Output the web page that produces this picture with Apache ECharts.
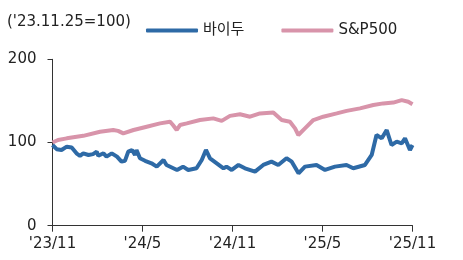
<!DOCTYPE html>
<html>
<head>
<meta charset="utf-8">
<script src="https://cdn.jsdelivr.net/npm/echarts@6/dist/echarts.min.js"></script>
<style>
html,body{margin:0;padding:0;background:#fff;}
#c{width:463px;height:260px;}
</style>
</head>
<body>
<div id="c"></div>
<script>
// months since '23.11.25 and index values ('23.11.25 = 100)
var baiduMonths = [0,0.28,0.6,0.95,1.28,1.6,1.83,2.05,2.4,2.7,2.95,3.05,3.4,3.6,3.95,4.3,4.6,4.83,5.05,5.3,5.5,5.6,5.83,6.17,6.6,6.95,7.4,7.6,8.3,8.7,9.05,9.6,9.95,10.23,10.5,10.95,11.4,11.6,11.95,12.4,12.83,13.5,14.05,14.6,15.05,15.6,15.95,16.4,16.83,17.6,18.17,18.83,19.6,20.05,20.83,21.28,21.6,21.95,22.28,22.6,22.95,23.28,23.5,23.83,24];
var baiduValues = [97,92,91,95,94,87,84,87,85,86,89,84,87,83,87,83,77,78,89,91,85,91,81,78,75,71,79,73,67,71,67,69,79,91,81,75,69,71,67,73,69,65,73,77,73,81,77,63,71,73,67,71,73,69,73,85,109,105,115,97,101,99,105,91,97];
var spMonths = [0,0.37,0.95,2.05,3.17,4.05,4.37,4.72,5.4,6.28,7.17,7.83,8.03,8.28,8.5,8.95,9.83,10.72,11.28,11.83,12.5,13.17,13.83,14.72,15.28,15.83,16.17,16.39,16.83,17.39,18.05,18.95,19.61,20.5,21.39,22.05,22.72,23.28,23.72,24];
var spValues = [100,103,105,108,113,115,114,111,115,119,123,125,121,115,121,123,127,129,126,132,134,131,135,136,127,125,117,109,117,127,131,135,138,141,145,147,148,151,149,146];
var tickMonths = [0,6,12,18,24];
var tickLabels = ["'23/11","'24/5","'24/11","'25/5","'25/11"];
var seriesNames = ['바이두','S&P500'];
var titleText = "('23.11.25=100)";

function pairs(xs, ys){ return xs.map(function(x,i){ return [x, ys[i]]; }); }
var FONT = "'DejaVu Sans', 'Noto Sans CJK KR', sans-serif";
var chart = echarts.init(document.getElementById('c'), null, {renderer:'canvas'});
chart.setOption({
  animation:false,
  textStyle:{fontFamily:FONT},
  title:{text:titleText,left:2,top:10,textStyle:{fontFamily:FONT,fontSize:15,fontWeight:'normal',color:'#222'}},
  legend:{
    left:146, top:23, padding:0, itemWidth:52, itemHeight:4, itemGap:37, icon:'roundRect',
    textStyle:{fontFamily:FONT,fontSize:15,color:'#222'},
    data:seriesNames
  },
  grid:{left:52.5,right:50.5,top:59.3,bottom:34.3,containLabel:false},
  xAxis:{
    type:'value',min:0,max:24,interval:6,
    axisLine:{lineStyle:{color:'#333',width:1}},
    axisTick:{show:true,length:6,lineStyle:{color:'#333'}},
    splitLine:{show:false},
    axisLabel:{margin:11,fontSize:15,color:'#222',fontFamily:FONT,
      formatter:function(v){ var i=tickMonths.indexOf(v); return i>=0?tickLabels[i]:''; }}
  },
  yAxis:{
    type:'value',min:0,max:200,interval:100,
    axisLine:{show:true,lineStyle:{color:'#333',width:1}},
    axisTick:{show:true,length:5,lineStyle:{color:'#333'}},
    splitLine:{show:false},
    axisLabel:{margin:16,fontSize:15,color:'#222',fontFamily:FONT}
  },
  series:[
    {name:seriesNames[1],type:'line',data:pairs(spMonths,spValues),showSymbol:false,
      lineStyle:{color:'#d894aa',width:4},itemStyle:{color:'#d894aa'},z:2},
    {name:seriesNames[0],type:'line',data:pairs(baiduMonths,baiduValues),showSymbol:false,
      lineStyle:{color:'#2e6aa6',width:4},itemStyle:{color:'#2e6aa6'},z:3}
  ]
});
</script>
</body>
</html>
